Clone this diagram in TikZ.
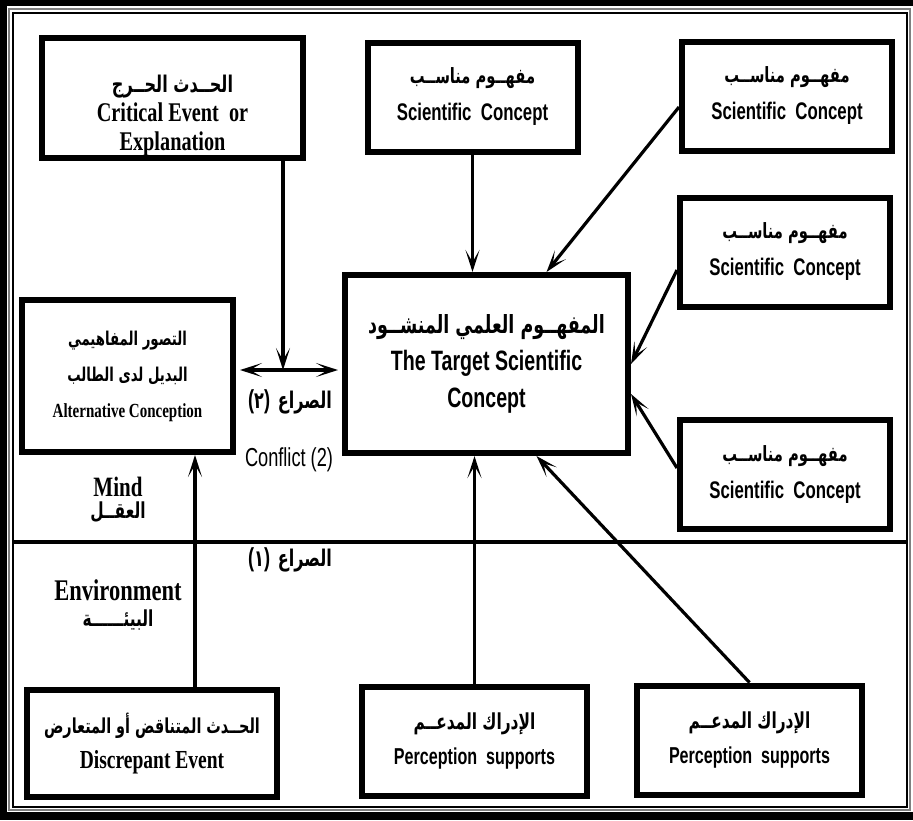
\documentclass[tikz,border=0pt]{standalone}
\usepackage{fontspec}
\usetikzlibrary{arrows.meta,calc,positioning}
\TeXXeTstate=1
\newfontfamily\arabicfont[Script=Arabic, FakeStretch=0.7]{DejaVu Sans}
\newfontfamily\narrowsans[FakeStretch=0.7]{Liberation Sans}
\newfontfamily\narrowserif[FakeStretch=0.75]{Liberation Serif}
\newcommand{\artxt}[2][11]{{\arabicfont\bfseries\fontsize{#1}{#1}\selectfont\beginR #2\endR}}
\newcommand{\sanstxt}[2][12]{{\narrowsans\bfseries\fontsize{#1}{#1}\selectfont #2}}
\newcommand{\sertxt}[2][12]{{\narrowserif\bfseries\fontsize{#1}{#1}\selectfont #2}}

\tikzset{
    box/.style={draw, line width=3pt, fill=white, align=center, inner sep=0pt,
        font=\fontsize{12}{18.5}\selectfont},
    concept/.style={minimum width=105pt, minimum height=54.5pt},
    percbox/.style={minimum width=112.5pt, minimum height=54.5pt},
    arr/.style={line width=1.6pt, -{Stealth[length=11pt,width=7pt,inset=6pt]}},
    lbl/.style={inner sep=0pt, align=center, font=\fontsize{12}{14}\selectfont},
}

\begin{document}
\begin{tikzpicture}[x=0.5pt, y=-0.5pt]
    \useasboundingbox (0,0) rectangle (913,820);

    % Frame
    \fill (0,0) rectangle (913,6);
    \fill (0,0) rectangle (7,820);
    \fill (0,812) rectangle (913,820);
    \draw[gray, line width=0.6pt] (9,9) rectangle (910,810);
    \draw[line width=0.8pt] (13,13) rectangle (907,807);

    % Mind / Environment
    \draw[line width=1.6pt] (13,542) -- (907,542);
    \node[lbl] (mind) at (118,487) {\sertxt[14]{Mind}};
    \node[lbl] (mindar) at (118,512) {\artxt[11]{العقــل}};
    \node[lbl] (env) at (118,590) {\sertxt[15]{Environment}};
    \node[lbl] (envar) at (118,620) {\artxt[11]{البيئــــــة}};

    % Top row
    \node[box, minimum width=130.5pt, minimum height=60pt, font=\fontsize{12}{14.5}\selectfont] (crit) at (172.5,98)
        {\rule{0pt}{26pt}\artxt[11.5]{الحــدث الحــرج}\\\sertxt[13.5]{Critical Event\ \ or}\\\sertxt[13.5]{Explanation}};
    \node[box, concept] (sc1) at (472.5,97)
        {\artxt[10.5]{مفهــوم مناســب}\\\sanstxt{Scientific\ \ Concept}};

    % Right column
    \foreach \n/\x/\y in {2/787/96, 3/785/252, 4/785/474} {
        \node[box, concept] (sc\n) at (\x,\y)
            {\artxt[10.5]{مفهــوم مناســب}\\\sanstxt{Scientific\ \ Concept}};
    }

    % Centre and left
    \node[box, minimum width=141.5pt, minimum height=89pt] (target) at (486.5,364)
        {\artxt[12.5]{المفهــوم العلمي المنشــود}\\\sanstxt[14]{The Target Scientific}\\\sanstxt[14]{Concept}};
    \node[box, minimum width=105.5pt, minimum height=76pt, font=\fontsize{10}{18}\selectfont] (alt) at (127.5,376)
        {\artxt[9.5]{التصور المفاهيمي}\\\artxt[9.5]{البديل لدى الطالب}\\\sertxt[10]{Alternative Conception}};

    % Bottom row
    \node[box, minimum width=125pt, minimum height=53.5pt, font=\fontsize{12}{17.5}\selectfont] (disc) at (152,743.5)
        {\artxt[10.3]{الحــدث المتناقض أو المتعارض}\\\sertxt[13]{Discrepant Event}};
    \node[box, percbox, font=\fontsize{12}{17.5}\selectfont] (perc1) at (474.5,741)
        {\artxt[11]{الإدراك المدعــم}\\\sanstxt[11.5]{Perception\ \ supports}};
    \node[box, percbox, font=\fontsize{12}{17.5}\selectfont] (perc2) at (749.5,740)
        {\artxt[11]{الإدراك المدعــم}\\\sanstxt[11.5]{Perception\ \ supports}};

    % Conflict
    \coordinate (meet) at (283,370);
    \draw[arr, {Stealth[length=11pt,width=7pt,inset=6pt]}-{Stealth[length=11pt,width=7pt,inset=6pt]},
        shorten <=2pt, shorten >=2pt] (alt.east |- meet) -- (target.west |- meet);
    \draw[arr] (crit.south -| meet) -- (meet);
    \node[lbl] (c2ar) at (290,402)
        {\sanstxt[13]{(}\artxt[11.5]{٢}\sanstxt[13]{)} \artxt[11.5]{الصراع}};
    \node[lbl] (c2en) at (289,460) {{\narrowsans\fontsize{13}{15}\selectfont Conflict (2)}};
    \node[lbl] (c1ar) at (290,560)
        {\sanstxt[13]{(}\artxt[11.5]{١}\sanstxt[13]{)} \artxt[11.5]{الصراع}};

    % Arrows into the target
    \draw[arr] (sc1) -- (sc1 |- target.north);
    \draw[arr] ($(sc2.west)+(0,11)$) -- ($(target.north)+(60,0)$);
    \draw[arr] ($(sc3.west)+(0,18)$) -- (target.east);
    \draw[arr] ($(sc4.west)+(0,-6)$) -- ($(target.east)+(0,30)$);
    \draw[arr] (perc1) -- (perc1 |- target.south);
    \draw[arr] (perc2.north) -- ($(target.south)+(50,0)$);
    \coordinate (dtop) at ($(disc.north)+(43,0)$);
    \draw[arr] (dtop) -- (dtop |- alt.south);
\end{tikzpicture}
\end{document}
